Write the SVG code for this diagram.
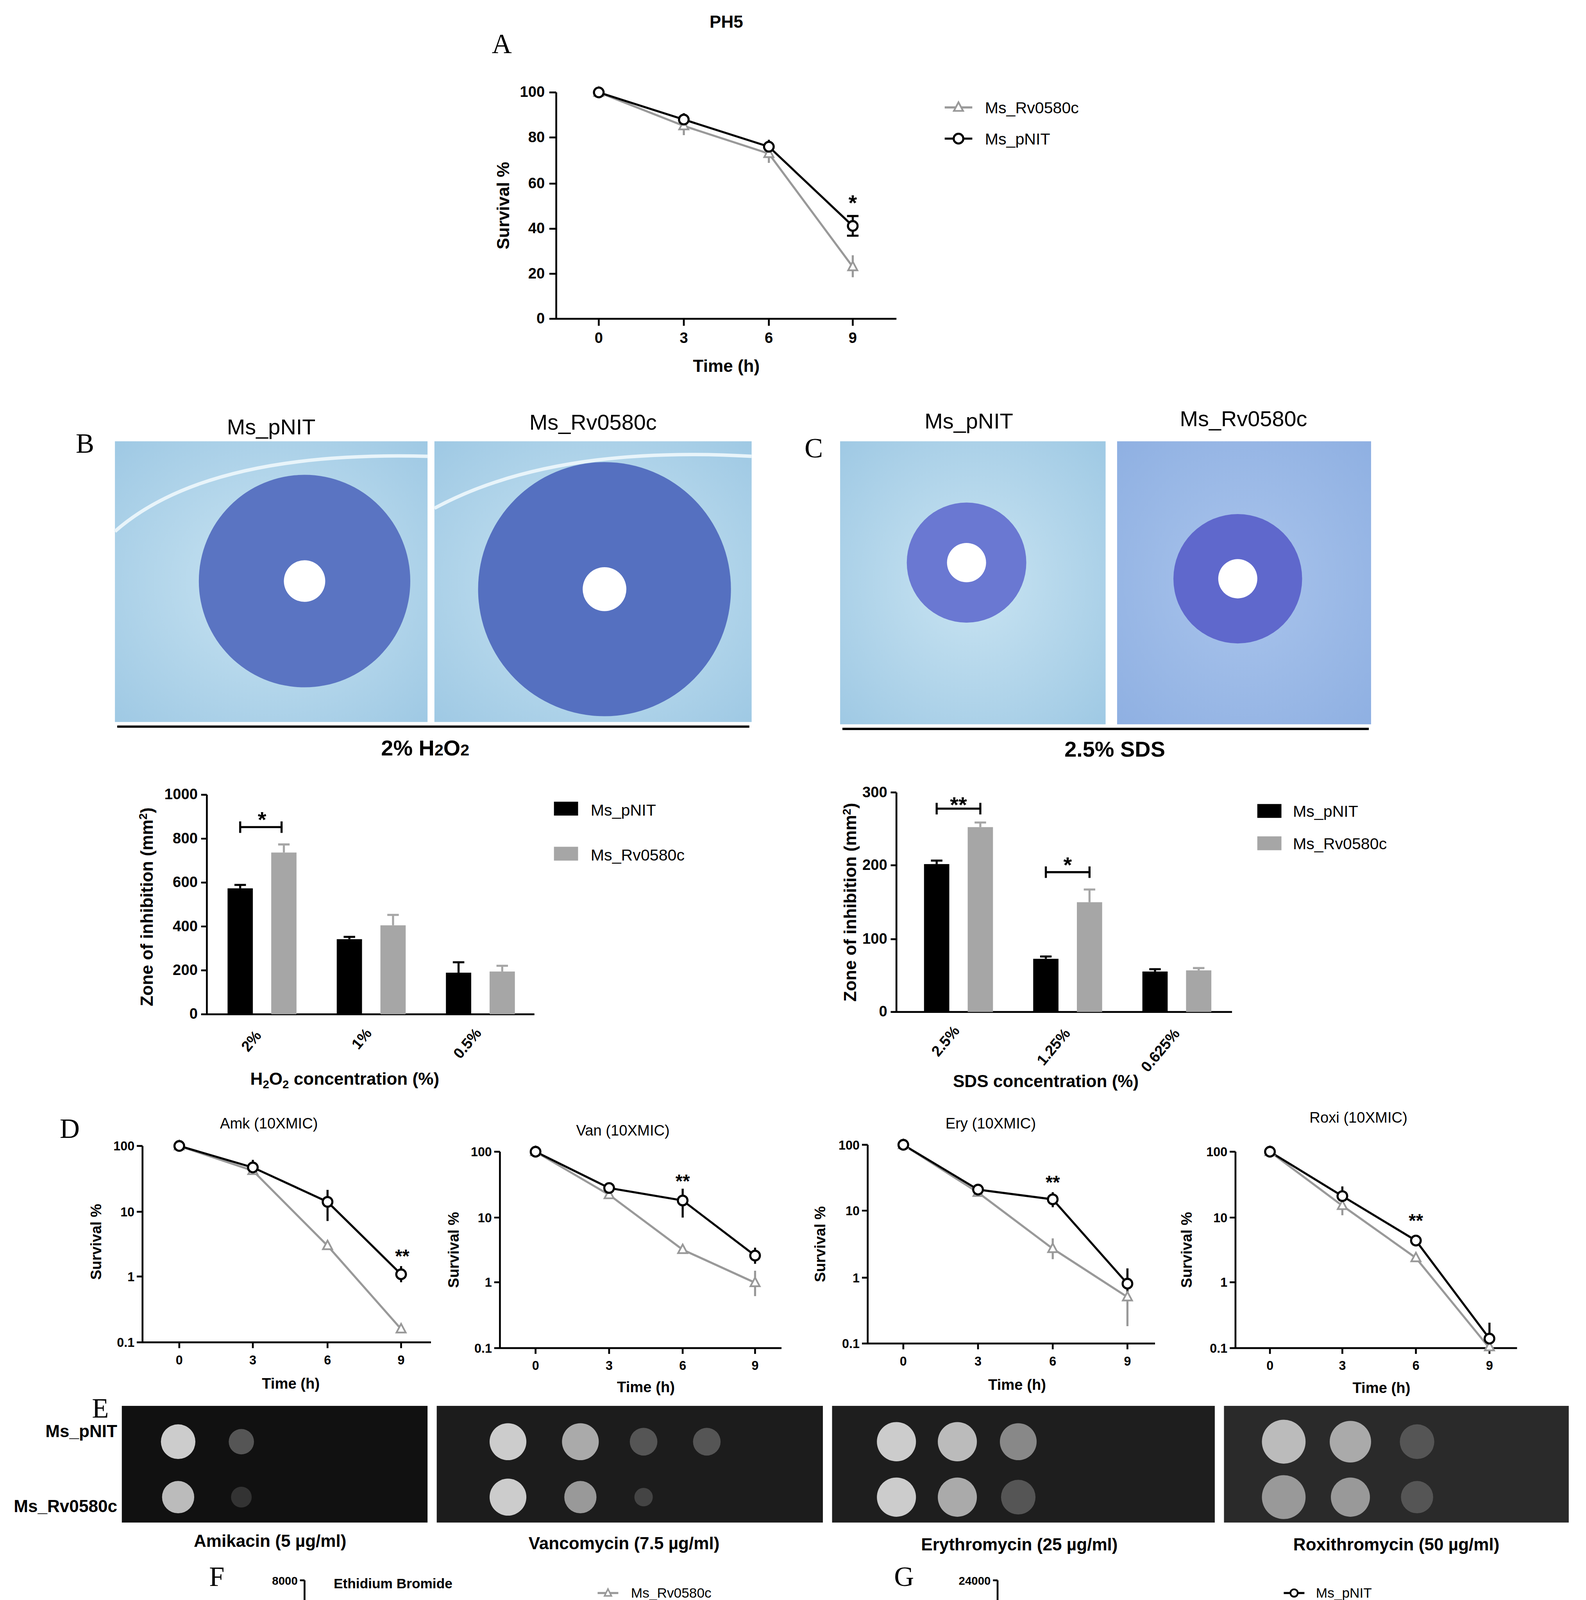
<svg xmlns="http://www.w3.org/2000/svg" xmlns:xlink="http://www.w3.org/1999/xlink" width="4059" height="4637" viewBox="0 0 4059 4637">
<style>
text{font-family:"Liberation Sans",Arial,sans-serif;fill:#000}
.L{font-family:"Liberation Serif","Times New Roman",serif;font-size:24px}
.ax{stroke:#000;stroke-width:1.6;fill:none}
.k{stroke:#000;stroke-width:1.8;fill:none}
.g{stroke:#999;stroke-width:1.8;fill:none}
.t{font-weight:bold;text-anchor:middle}
.s{font-weight:bold;text-anchor:middle}
.ti{text-anchor:middle}
.e{text-anchor:end}
</style>
<defs>
<circle id="c" r="4.2" fill="#fff" stroke="#000" stroke-width="1.8"/>
<path id="tr" d="M0,-4.5 L4,3 L-4,3Z" fill="#fff" stroke="#999" stroke-width="1.5"/>
<circle id="cs" r="3.2" fill="#fff" stroke="#000" stroke-width="1.5"/>
<path id="trs" d="M0,-3.5 L3,2.5 L-3,2.5Z" fill="#fff" stroke="#999" stroke-width="1.3"/>
<radialGradient id="plate" cx="0.5" cy="0.5" r="0.7"><stop offset="0" stop-color="#c9e4f2"/><stop offset="1" stop-color="#9fc9e4"/></radialGradient>
<radialGradient id="plate2" cx="0.5" cy="0.5" r="0.7"><stop offset="0" stop-color="#a9c4ec"/><stop offset="1" stop-color="#8fb0e2"/></radialGradient>
</defs>
<g transform="scale(2.9413,2.9573)">
<g id="panelA">
<text x="632" y="24" class="s" style="font-size:15px">PH5</text>
<text x="428" y="46" class="L">A</text>
<path class="ax" d="M484,80V276H780M478,80H484M478,119H484M478,159H484M478,198H484M478,237H484M478,276H484M521,276V282M595,276V282M669,276V282M742,276V282"/>
<g class="t" style="font-size:13px"><text x="474" y="84" class="e">100</text><text x="474" y="123" class="e">80</text><text x="474" y="163" class="e">60</text><text x="474" y="202" class="e">40</text><text x="474" y="241" class="e">20</text><text x="474" y="280" class="e">0</text>
<text x="521" y="297">0</text><text x="595" y="297">3</text><text x="669" y="297">6</text><text x="742" y="297">9</text></g>
<text x="632" y="322" class="s" style="font-size:15px">Time (h)</text>
<text transform="translate(443,178) rotate(-90)" class="s" style="font-size:15px">Survival %</text>
<polyline class="g" points="521,80 595,109 669,133 742,231"/>
<path class="g" d="M595,101V117M669,125V141M742,221V240"/>
<polyline class="k" points="521,80 595,103.5 669,127 742,195.6"/>
<path class="k" d="M595,98V109M669,121V133M742,187V204M737,187h10M737,204h10"/>
<use href="#tr" x="521" y="80"/><use href="#tr" x="595" y="109"/><use href="#tr" x="669" y="133"/><use href="#tr" x="742" y="231"/>
<use href="#c" x="521" y="80"/><use href="#c" x="595" y="103.5"/><use href="#c" x="669" y="127"/><use href="#c" x="742" y="195.6"/>
<text x="742" y="182" class="s" style="font-size:19px">*</text>
<line x1="822" y1="93" x2="846" y2="93" class="g"/><use href="#tr" x="834" y="93"/>
<text x="857" y="98" style="font-size:14px">Ms_Rv0580c</text>
<line x1="822" y1="120" x2="846" y2="120" class="k"/><use href="#c" x="834" y="120"/>
<text x="857" y="125" style="font-size:14px">Ms_pNIT</text>
</g>
<g id="panelB">
<text x="66" y="392" class="L">B</text>
<text x="236" y="376" class="ti" style="font-size:19px">Ms_pNIT</text>
<text x="516" y="372" class="ti" style="font-size:19px">Ms_Rv0580c</text>
<rect x="100" y="382" width="272" height="243" fill="url(#plate)"/>
<path d="M100,460 Q180,390 372,395" stroke="#e8f4fa" stroke-width="3" fill="none"/>
<circle cx="265" cy="503" r="92" fill="#5a74c2"/><circle cx="265" cy="503" r="18" fill="#fff"/>
<rect x="378" y="382" width="276" height="243" fill="url(#plate)"/>
<path d="M378,440 Q480,385 654,395" stroke="#e8f4fa" stroke-width="3" fill="none"/>
<circle cx="526" cy="510" r="110" fill="#5570c0"/><circle cx="526" cy="510" r="19" fill="#fff"/>
<line x1="102" y1="629" x2="652" y2="629" stroke="#000" stroke-width="2"/>
<text x="370" y="654" class="s" style="font-size:19px">2% H<tspan style="font-size:14px">2</tspan>O<tspan style="font-size:14px">2</tspan></text>
</g>
<g id="panelC">
<text x="700" y="396" class="L">C</text>
<text x="843" y="371" class="ti" style="font-size:19px">Ms_pNIT</text>
<text x="1082" y="369" class="ti" style="font-size:19px">Ms_Rv0580c</text>
<rect x="731" y="382" width="231" height="245" fill="url(#plate)"/>
<circle cx="841" cy="487" r="52" fill="#6a78d2"/><circle cx="841" cy="487" r="17" fill="#fff"/>
<rect x="972" y="382" width="221" height="245" fill="url(#plate2)"/>
<circle cx="1077" cy="501" r="56" fill="#5f68cc"/><circle cx="1077" cy="501" r="17" fill="#fff"/>
<line x1="733" y1="631" x2="1191" y2="631" stroke="#000" stroke-width="2"/>
<text x="970" y="655" class="s" style="font-size:19px">2.5% SDS</text>
</g>
<g id="barB">
<path class="ax" d="M180,688V878H465M175,688H180M175,726H180M175,764H180M175,802H180M175,840H180M175,878H180"/>
<g class="t" style="font-size:13px"><text x="172" y="692" class="e">1000</text><text x="172" y="730" class="e">800</text><text x="172" y="768" class="e">600</text><text x="172" y="806" class="e">400</text><text x="172" y="844" class="e">200</text><text x="172" y="882" class="e">0</text></g>
<rect x="198" y="769" width="22" height="109"/><rect x="236" y="738" width="22" height="140" fill="#a6a6a6"/>
<rect x="293" y="813" width="22" height="65"/><rect x="331" y="801" width="22" height="77" fill="#a6a6a6"/>
<rect x="388" y="842" width="22" height="36"/><rect x="426" y="841" width="22" height="37" fill="#a6a6a6"/>
<path class="k" d="M209,769V766M204,766h10M304,813V811M299,811h10M399,842V833M394,833h10"/>
<path stroke="#a6a6a6" stroke-width="1.8" d="M247,738V731M242,731h10M342,801V792M337,792h10M437,841V836M432,836h10"/>
<path class="k" d="M209,711V721M209,716H245M245,711V721"/>
<text x="228" y="716" class="s" style="font-size:19px">*</text>
<g class="t" style="font-size:13px"><text transform="translate(222,904) rotate(-50)">2%</text><text transform="translate(318,902) rotate(-50)">1%</text><text transform="translate(410,906) rotate(-50)">0.5%</text></g>
<text x="300" y="939" class="s" style="font-size:15px">H<tspan style="font-size:10px" dy="3">2</tspan><tspan dy="-3">O</tspan><tspan style="font-size:10px" dy="3">2</tspan><tspan dy="-3"> concentration (%)</tspan></text>
<text transform="translate(133,785) rotate(-90)" class="s" style="font-size:15px">Zone of inhibition (mm<tspan style="font-size:10px" dy="-5">2</tspan><tspan dy="5">)</tspan></text>
<rect x="482" y="694" width="21" height="12"/><text x="514" y="706" style="font-size:14px">Ms_pNIT</text>
<rect x="482" y="733" width="21" height="12" fill="#a6a6a6"/><text x="514" y="745" style="font-size:14px">Ms_Rv0580c</text>
</g>
<g id="barC">
<path class="ax" d="M780,686V876H1072M775,686H780M775,749H780M775,813H780M775,876H780"/>
<g class="t" style="font-size:13px"><text x="772" y="690" class="e">300</text><text x="772" y="753" class="e">200</text><text x="772" y="817" class="e">100</text><text x="772" y="880" class="e">0</text></g>
<rect x="804" y="748" width="22" height="128"/><rect x="842" y="716" width="22" height="160" fill="#a6a6a6"/>
<rect x="899" y="830" width="22" height="46"/><rect x="937" y="781" width="22" height="95" fill="#a6a6a6"/>
<rect x="994" y="841" width="22" height="35"/><rect x="1032" y="840" width="22" height="36" fill="#a6a6a6"/>
<path class="k" d="M815,748V745M810,745h10M910,830V828M905,828h10M1005,841V839M1000,839h10"/>
<path stroke="#a6a6a6" stroke-width="1.8" d="M853,716V712M848,712h10M948,781V770M943,770h10M1043,840V838M1038,838h10"/>
<path class="k" d="M815,695V705M815,700H853M853,695V705M910,750V760M910,755H948M948,750V760"/>
<text x="834" y="703" class="s" style="font-size:19px">**</text><text x="929" y="755" class="s" style="font-size:19px">*</text>
<g class="t" style="font-size:13px"><text transform="translate(826,904) rotate(-50)">2.5%</text><text transform="translate(920,909) rotate(-50)">1.25%</text><text transform="translate(1013,912) rotate(-50)">0.625%</text></g>
<text x="910" y="941" class="s" style="font-size:15px">SDS concentration (%)</text>
<text transform="translate(745,781) rotate(-90)" class="s" style="font-size:15px">Zone of inhibition (mm<tspan style="font-size:10px" dy="-5">2</tspan><tspan dy="5">)</tspan></text>
<rect x="1094" y="696" width="21" height="12"/><text x="1125" y="707" style="font-size:14px">Ms_pNIT</text>
<rect x="1094" y="724" width="21" height="12" fill="#a6a6a6"/><text x="1125" y="735" style="font-size:14px">Ms_Rv0580c</text>
</g>
<g id="panelD">
<text x="52" y="985" class="L">D</text>
<text x="234" y="977" class="ti" style="font-size:13px">Amk (10XMIC)</text>
<path class="ax" d="M124,992V1162H375M119,992H124M119,1049H124M119,1105H124M119,1162H124M156,1162V1167M220,1162V1167M285,1162V1167M349,1162V1167"/>
<g class="t" style="font-size:11px"><text x="117" y="996" class="e">100</text><text x="117" y="1053" class="e">10</text><text x="117" y="1109" class="e">1</text><text x="117" y="1166" class="e">0.1</text><text x="156" y="1181">0</text><text x="220" y="1181">3</text><text x="285" y="1181">6</text><text x="349" y="1181">9</text></g>
<polyline class="g" points="156,992 220,1013.4 285,1078.4 349,1150.5"/>
<polyline class="k" points="156,992 220,1010.6 285,1040.4 349,1103.1"/>
<path class="k" d="M220,1004V1017M285,1030V1057M349,1096V1110"/>
<use href="#tr" x="156" y="992"/><use href="#tr" x="220" y="1013.4"/><use href="#tr" x="285" y="1078.4"/><use href="#tr" x="349" y="1150.5"/>
<use href="#c" x="156" y="992"/><use href="#c" x="220" y="1010.6"/><use href="#c" x="285" y="1040.4"/><use href="#c" x="349" y="1103.1"/>
<text x="350" y="1093" class="s" style="font-size:16px">**</text>
<text transform="translate(88,1075) rotate(-90)" class="t" style="font-size:13px">Survival %</text>
<text x="253" y="1202" class="t" style="font-size:13px">Time (h)</text>
<text x="542" y="983" class="ti" style="font-size:13px">Van (10XMIC)</text>
<path class="ax" d="M435,997V1167H680M430,997H435M430,1054H435M430,1110H435M430,1167H435M466,1167V1172M530,1167V1172M594,1167V1172M657,1167V1172"/>
<g class="t" style="font-size:11px"><text x="428" y="1001" class="e">100</text><text x="428" y="1058" class="e">10</text><text x="428" y="1114" class="e">1</text><text x="428" y="1171" class="e">0.1</text><text x="466" y="1186">0</text><text x="530" y="1186">3</text><text x="594" y="1186">6</text><text x="657" y="1186">9</text></g>
<polyline class="g" points="466,997 530,1034.3 594,1081.8 657,1110.4"/>
<path class="g" d="M657,1100V1122"/>
<polyline class="k" points="466,997 530,1028.4 594,1039.2 657,1086.9"/>
<path class="k" d="M594,1029V1054M657,1080V1094"/>
<use href="#tr" x="466" y="997"/><use href="#tr" x="530" y="1034.3"/><use href="#tr" x="594" y="1081.8"/><use href="#tr" x="657" y="1110.4"/>
<use href="#c" x="466" y="997"/><use href="#c" x="530" y="1028.4"/><use href="#c" x="594" y="1039.2"/><use href="#c" x="657" y="1086.9"/>
<text x="594" y="1028" class="s" style="font-size:16px">**</text>
<text transform="translate(399,1082) rotate(-90)" class="t" style="font-size:13px">Survival %</text>
<text x="562" y="1205" class="t" style="font-size:13px">Time (h)</text>
<text x="862" y="977" class="ti" style="font-size:13px">Ery (10XMIC)</text>
<path class="ax" d="M755,991V1163H1005M750,991H755M750,1048H755M750,1106H755M750,1163H755M786,1163V1168M851,1163V1168M916,1163V1168M981,1163V1168"/>
<g class="t" style="font-size:11px"><text x="748" y="995" class="e">100</text><text x="748" y="1052" class="e">10</text><text x="748" y="1110" class="e">1</text><text x="748" y="1167" class="e">0.1</text><text x="786" y="1182">0</text><text x="851" y="1182">3</text><text x="916" y="1182">6</text><text x="981" y="1182">9</text></g>
<polyline class="g" points="786,991 851,1032.3 916,1080.9 981,1122.8"/>
<path class="g" d="M916,1072V1090M981,1102V1148"/>
<polyline class="k" points="786,991 851,1029.8 916,1038.2 981,1111.2"/>
<path class="k" d="M916,1032V1045M981,1098V1125"/>
<use href="#tr" x="786" y="991"/><use href="#tr" x="851" y="1032.3"/><use href="#tr" x="916" y="1080.9"/><use href="#tr" x="981" y="1122.8"/>
<use href="#c" x="786" y="991"/><use href="#c" x="851" y="1029.8"/><use href="#c" x="916" y="1038.2"/><use href="#c" x="981" y="1111.2"/>
<text x="916" y="1029" class="s" style="font-size:16px">**</text>
<text transform="translate(718,1077) rotate(-90)" class="t" style="font-size:13px">Survival %</text>
<text x="885" y="1203" class="t" style="font-size:13px">Time (h)</text>
<text x="1182" y="972" class="ti" style="font-size:13px">Roxi (10XMIC)</text>
<path class="ax" d="M1075,997V1167H1320M1070,997H1075M1070,1054H1075M1070,1110H1075M1070,1167H1075M1105,1167V1172M1168,1167V1172M1232,1167V1172M1296,1167V1172"/>
<g class="t" style="font-size:11px"><text x="1068" y="1001" class="e">100</text><text x="1068" y="1058" class="e">10</text><text x="1068" y="1114" class="e">1</text><text x="1068" y="1171" class="e">0.1</text><text x="1105" y="1186">0</text><text x="1168" y="1186">3</text><text x="1232" y="1186">6</text><text x="1296" y="1186">9</text></g>
<polyline class="g" points="1105,997 1168,1043.7 1232,1088.9 1296,1167"/>
<path class="g" d="M1168,1036V1052"/>
<polyline class="k" points="1105,997 1168,1035.4 1232,1073.9 1296,1158.8"/>
<path class="k" d="M1168,1027V1042M1296,1145V1167"/>
<use href="#tr" x="1105" y="997"/><use href="#tr" x="1168" y="1043.7"/><use href="#tr" x="1232" y="1088.9"/><use href="#tr" x="1296" y="1166"/>
<use href="#c" x="1105" y="997"/><use href="#c" x="1168" y="1035.4"/><use href="#c" x="1232" y="1073.9"/><use href="#c" x="1296" y="1158.8"/>
<text x="1232" y="1062" class="s" style="font-size:16px">**</text>
<text transform="translate(1037,1082) rotate(-90)" class="t" style="font-size:13px">Survival %</text>
<text x="1202" y="1206" class="t" style="font-size:13px">Time (h)</text>
</g>
<g id="panelE">
<text x="80" y="1227" class="L">E</text>
<text x="102" y="1244" class="s e" style="font-size:15px;text-anchor:end">Ms_pNIT</text>
<text x="102" y="1309" class="s e" style="font-size:15px;text-anchor:end">Ms_Rv0580c</text>
<rect x="106" y="1217" width="266" height="101" fill="#111"/>
<rect x="380" y="1217" width="336" height="101" fill="#1c1c1c"/>
<rect x="724" y="1217" width="333" height="101" fill="#1e1e1e"/>
<rect x="1065" y="1217" width="300" height="101" fill="#2a2a2a"/>
<g fill="#ccc">
<circle cx="155" cy="1248" r="15"/><circle cx="155" cy="1296" r="14" fill="#bbb"/>
<circle cx="210" cy="1248" r="11" fill="#555"/><circle cx="210" cy="1296" r="9" fill="#333"/>
<circle cx="442" cy="1248" r="16"/><circle cx="442" cy="1296" r="16"/>
<circle cx="505" cy="1248" r="16" fill="#aaa"/><circle cx="505" cy="1296" r="14" fill="#999"/>
<circle cx="560" cy="1248" r="12" fill="#555"/><circle cx="615" cy="1248" r="12" fill="#555"/><circle cx="560" cy="1296" r="8" fill="#444"/>
<circle cx="780" cy="1248" r="17"/><circle cx="780" cy="1296" r="17"/>
<circle cx="833" cy="1248" r="17" fill="#bbb"/><circle cx="833" cy="1296" r="17" fill="#aaa"/>
<circle cx="886" cy="1248" r="16" fill="#888"/><circle cx="886" cy="1296" r="15" fill="#555"/>
<circle cx="1117" cy="1248" r="19" fill="#bbb"/><circle cx="1117" cy="1296" r="19" fill="#999"/>
<circle cx="1175" cy="1248" r="18" fill="#aaa"/><circle cx="1175" cy="1296" r="17" fill="#999"/>
<circle cx="1233" cy="1248" r="15" fill="#555"/><circle cx="1233" cy="1296" r="14" fill="#555"/>
</g>
<g class="s" style="font-size:15px"><text x="235" y="1339">Amikacin (5 µg/ml)</text><text x="543" y="1341">Vancomycin (7.5 µg/ml)</text><text x="887" y="1342">Erythromycin (25 µg/ml)</text><text x="1215" y="1342">Roxithromycin (50 µg/ml)</text></g>
</g>
<g id="panelF">
<text x="182" y="1373" class="L">F</text>
<text x="342" y="1375" class="t" style="font-size:12px">Ethidium Bromide</text>
<path class="ax" d="M265,1368V1520H490M261,1368H265M261,1406H265M261,1444H265M261,1482H265M261,1520H265M274,1520V1524M310,1520V1524M346,1520V1524M382,1520V1524M418,1520V1524M454,1520V1524"/>
<g class="t" style="font-size:10px"><text x="259" y="1372" class="e">8000</text><text x="259" y="1410" class="e">6000</text><text x="259" y="1448" class="e">4000</text><text x="259" y="1486" class="e">2000</text><text x="259" y="1524" class="e">0</text>
<text transform="translate(278,1536) rotate(-70)">0</text><text transform="translate(314,1538) rotate(-70)">10</text><text transform="translate(350,1538) rotate(-70)">20</text><text transform="translate(386,1538) rotate(-70)">30</text><text transform="translate(422,1538) rotate(-70)">40</text><text transform="translate(458,1538) rotate(-70)">50</text></g>
<text transform="translate(229,1445) rotate(-90)" class="t" style="font-size:9px">Flourescence intensity (AU)</text>
<text x="377" y="1561" class="t" style="font-size:12px">Time (minutes)</text>
<polyline class="g" stroke-width="1.5" points="274,1497.2 292,1461.1 310,1446.9 328,1436.4 346,1427.9 364,1420.3 382,1413.6 400,1409.8 418,1402.2 436,1400.3 454,1397.5 472,1397.5"/>
<path class="g" stroke-width="1.2" d="M382,1409V1418M400,1404V1416M418,1396V1409M436,1394V1407M454,1391V1404M472,1392V1403"/>
<polyline class="k" stroke-width="1.5" points="274,1497.2 292,1491.5 310,1486.8 328,1483 346,1480.1 364,1477.3 382,1474.4 400,1472.5 418,1470.6 436,1467.8 454,1465.9 472,1464"/>
<g><use href="#trs" x="274" y="1497.2"/><use href="#trs" x="292" y="1461.1"/><use href="#trs" x="310" y="1446.9"/><use href="#trs" x="328" y="1436.4"/><use href="#trs" x="346" y="1427.9"/><use href="#trs" x="364" y="1420.3"/><use href="#trs" x="382" y="1413.6"/><use href="#trs" x="400" y="1409.8"/><use href="#trs" x="418" y="1402.2"/><use href="#trs" x="436" y="1400.3"/><use href="#trs" x="454" y="1397.5"/><use href="#trs" x="472" y="1397.5"/>
<use href="#cs" x="274" y="1497.2"/><use href="#cs" x="292" y="1491.5"/><use href="#cs" x="310" y="1486.8"/><use href="#cs" x="328" y="1483"/><use href="#cs" x="346" y="1480.1"/><use href="#cs" x="364" y="1477.3"/><use href="#cs" x="382" y="1474.4"/><use href="#cs" x="400" y="1472.5"/><use href="#cs" x="418" y="1470.6"/><use href="#cs" x="436" y="1467.8"/><use href="#cs" x="454" y="1465.9"/><use href="#cs" x="472" y="1464"/></g>
<line x1="520" y1="1379" x2="538" y2="1379" class="g" stroke-width="1.3"/><use href="#trs" x="529" y="1379"/><text x="549" y="1383" style="font-size:12px">Ms_Rv0580c</text>
<line x1="520" y1="1399" x2="538" y2="1399" class="k" stroke-width="1.3"/><use href="#cs" x="529" y="1399"/><text x="549" y="1403" style="font-size:12px">Ms_pNIT</text>
</g>
<g id="panelG">
<text x="778" y="1373" class="L">G</text>
<path class="ax" d="M868,1368V1520H1092M864,1368H868M864,1406H868M864,1444H868M864,1482H868M864,1520H868M877,1520V1524M913,1520V1524M949,1520V1524M985,1520V1524M1021,1520V1524M1057,1520V1524"/>
<g class="t" style="font-size:10px"><text x="862" y="1372" class="e">24000</text><text x="862" y="1410" class="e">22000</text><text x="862" y="1448" class="e">20000</text><text x="862" y="1486" class="e">18000</text><text x="862" y="1524" class="e">16000</text>
<text transform="translate(881,1536) rotate(-70)">0</text><text transform="translate(917,1538) rotate(-70)">10</text><text transform="translate(953,1538) rotate(-70)">20</text><text transform="translate(989,1538) rotate(-70)">30</text><text transform="translate(1025,1538) rotate(-70)">40</text><text transform="translate(1061,1538) rotate(-70)">50</text></g>
<text transform="translate(825,1445) rotate(-90)" class="t" style="font-size:9px">Flourescence intensity (AU)</text>
<text x="980" y="1561" class="t" style="font-size:12px">Time (minutes)</text>
<polyline class="g" stroke-width="1.5" points="877,1493.4 895,1476.3 913,1468.7 931,1464.9 949,1455.4 967,1445.9 985,1440.2 1003,1434.5 1021,1430.7 1039,1428.8 1057,1426.9 1075,1425"/>
<path class="g" stroke-width="1.2" d="M877,1488V1499M913,1463V1474M931,1458V1471M967,1438V1453M985,1432V1448M1003,1428V1441M1039,1421V1436M1075,1416V1434"/>
<polyline class="k" stroke-width="1.5" points="877,1497.2 895,1485.8 913,1474.4 931,1472.5 949,1472.5 967,1459.2 985,1453.5 1003,1449.7 1021,1445.9 1039,1440.2 1057,1440.2 1075,1438.3"/>
<path class="k" stroke-width="1.2" d="M895,1478V1493M913,1465V1484M931,1456V1489M949,1461V1484M967,1445V1473M985,1438V1469M1003,1435V1464M1021,1430V1462M1039,1428V1452M1057,1425V1455M1075,1421V1456"/>
<g><use href="#trs" x="877" y="1493.4"/><use href="#trs" x="895" y="1476.3"/><use href="#trs" x="913" y="1468.7"/><use href="#trs" x="931" y="1464.9"/><use href="#trs" x="949" y="1455.4"/><use href="#trs" x="967" y="1445.9"/><use href="#trs" x="985" y="1440.2"/><use href="#trs" x="1003" y="1434.5"/><use href="#trs" x="1021" y="1430.7"/><use href="#trs" x="1039" y="1428.8"/><use href="#trs" x="1057" y="1426.9"/><use href="#trs" x="1075" y="1425"/>
<use href="#cs" x="877" y="1497.2"/><use href="#cs" x="895" y="1485.8"/><use href="#cs" x="913" y="1474.4"/><use href="#cs" x="931" y="1472.5"/><use href="#cs" x="949" y="1472.5"/><use href="#cs" x="967" y="1459.2"/><use href="#cs" x="985" y="1453.5"/><use href="#cs" x="1003" y="1449.7"/><use href="#cs" x="1021" y="1445.9"/><use href="#cs" x="1039" y="1440.2"/><use href="#cs" x="1057" y="1440.2"/><use href="#cs" x="1075" y="1438.3"/></g>
<line x1="1117" y1="1379" x2="1135" y2="1379" class="k" stroke-width="1.3"/><use href="#cs" x="1126" y="1379"/><text x="1145" y="1383" style="font-size:12px">Ms_pNIT</text>
<line x1="1117" y1="1402" x2="1135" y2="1402" class="g" stroke-width="1.3"/><use href="#trs" x="1126" y="1402"/><text x="1145" y="1406" style="font-size:12px">Ms_Rv0580c</text>
</g>
</g>
</svg>
